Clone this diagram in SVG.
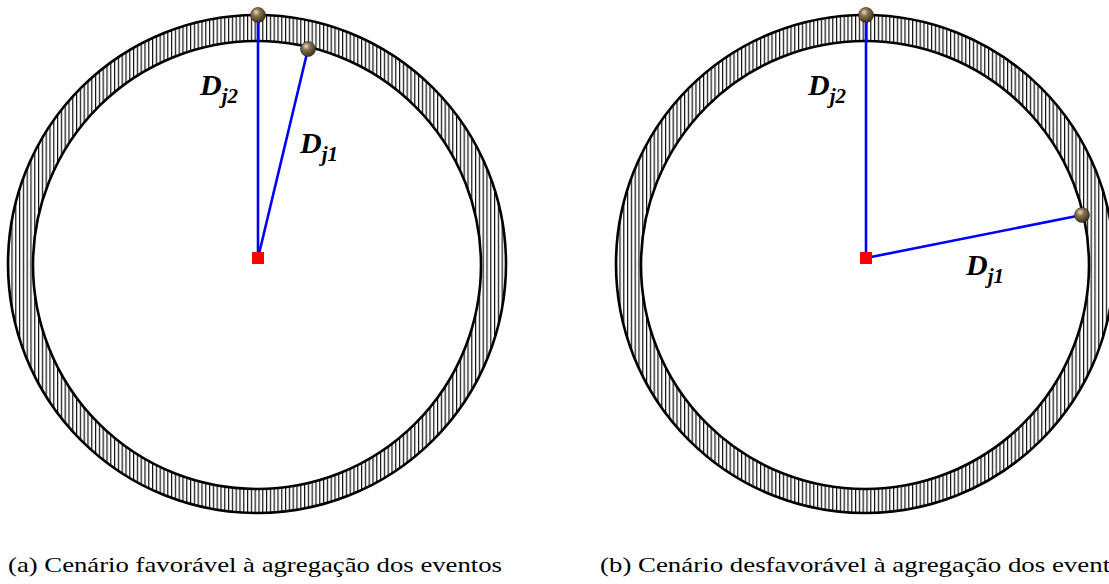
<svg xmlns="http://www.w3.org/2000/svg" width="1109" height="584" viewBox="0 0 1109 584">
<style>
.ring{fill:url(#hatch);fill-rule:evenodd;stroke:none}
.circ{fill:none;stroke:#000;stroke-width:2.6}
.radius{stroke:#0000ff;stroke-width:2.6;fill:none}
.center{fill:#ff0000}
.ball{fill:url(#ballg);stroke:#2a2010;stroke-width:0.6}
.lbl{font-family:"Liberation Serif",serif;font-weight:bold;font-style:italic;font-size:30px;fill:#000}
.sub{font-size:21px}
.cap{font-family:"Liberation Serif",serif;font-size:22px;fill:#000}
</style>
<defs>
<pattern id="hatch" patternUnits="userSpaceOnUse" x="0" y="0" width="3.8" height="10">
<rect x="0" y="0" width="3.8" height="10" fill="#fff"/>
<rect x="0" y="0" width="1.2" height="10" fill="#111"/>
</pattern>
<radialGradient id="ballg" cx="0.38" cy="0.32" r="0.7">
<stop offset="0" stop-color="#e8dcc0"/>
<stop offset="0.35" stop-color="#8a7550"/>
<stop offset="1" stop-color="#3a2e18"/>
</radialGradient>
</defs>
<rect width="1109" height="584" fill="#fff"/>
<g id="diagram-a">
<g id="ring-a">
<path class="ring" d="M8,264 a249,249 0 1,0 498,0 a249,249 0 1,0 -498,0 Z M33,265 a224,224 0 1,0 448,0 a224,224 0 1,0 -448,0 Z"/>
<circle class="circ" cx="257" cy="264" r="249"/>
<circle class="circ" cx="257" cy="265" r="224"/>
</g>
<g id="connectors-a">
<line class="radius" x1="258" y1="258" x2="258" y2="15"/>
<line class="radius" x1="258" y1="258" x2="308" y2="49"/>
</g>
<g id="center-a"><rect class="center" x="252" y="252" width="12" height="12"/></g>
<g id="ball-a1"><circle class="ball" cx="258" cy="15" r="7.5"/></g>
<g id="ball-a2"><circle class="ball" cx="308" cy="49" r="7.5"/></g>
<g id="label-a-dj2"><text class="lbl" x="200" y="95">D<tspan class="sub" dy="8">j2</tspan></text></g>
<g id="label-a-dj1"><text class="lbl" x="300" y="153">D<tspan class="sub" dy="8">j1</tspan></text></g>
<g id="caption-a"><text class="cap" x="8" y="572" textLength="494" lengthAdjust="spacingAndGlyphs">(a) Cenário favorável à agregação dos eventos</text></g>
</g>
<g id="diagram-b">
<g id="ring-b">
<path class="ring" d="M616,264 a249,249 0 1,0 498,0 a249,249 0 1,0 -498,0 Z M641,265 a224,224 0 1,0 448,0 a224,224 0 1,0 -448,0 Z"/>
<circle class="circ" cx="865" cy="264" r="249"/>
<circle class="circ" cx="865" cy="265" r="224"/>
</g>
<g id="connectors-b">
<line class="radius" x1="866" y1="258" x2="866" y2="15"/>
<line class="radius" x1="866" y1="258" x2="1082" y2="215"/>
</g>
<g id="center-b"><rect class="center" x="860" y="252" width="12" height="12"/></g>
<g id="ball-b1"><circle class="ball" cx="866" cy="15" r="7.5"/></g>
<g id="ball-b2"><circle class="ball" cx="1082" cy="215" r="7.5"/></g>
<g id="label-b-dj2"><text class="lbl" x="808" y="95">D<tspan class="sub" dy="8">j2</tspan></text></g>
<g id="label-b-dj1"><text class="lbl" x="966" y="275">D<tspan class="sub" dy="8">j1</tspan></text></g>
<g id="caption-b"><text class="cap" x="600" y="572" textLength="534" lengthAdjust="spacingAndGlyphs">(b) Cenário desfavorável à agregação dos eventos</text></g>
</g>
</svg>
